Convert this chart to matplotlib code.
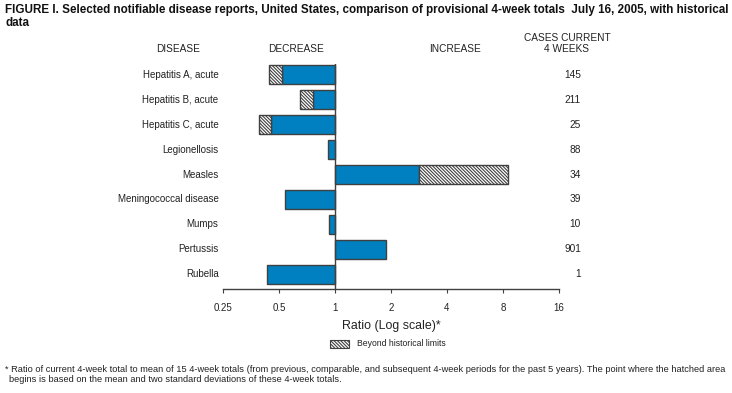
import numpy as np
import matplotlib
matplotlib.use("Agg")
import matplotlib.pyplot as plt
import matplotlib.transforms as mtransforms
from matplotlib.patches import Rectangle

plt.rcParams['font.family'] = ['Liberation Sans', 'DejaVu Sans']
plt.rcParams['hatch.linewidth'] = 0.8

diseases = ["Hepatitis A, acute", "Hepatitis B, acute", "Hepatitis C, acute",
            "Legionellosis", "Measles", "Meningococcal disease", "Mumps",
            "Pertussis", "Rubella"]
# ratio of current 4-week total to historical mean
ratio = [0.44, 0.65, 0.39, 0.92, 8.55, 0.54, 0.93, 1.89, 0.43]
# point where the hatched area begins (None = within historical limits)
limit = [0.52, 0.76, 0.455, None, 2.83, None, None, None, None]
cases = [145, 211, 25, 88, 34, 39, 10, 901, 1]
xticks = [0.25, 0.5, 1, 2, 4, 8, 16]
xtick_labels = ["0.25", "0.5", "1", "2", "4", "8", "16"]

blue = "#0080c0"
edge = "#404040"
txt = "#222222"
hatch = "\\" * 10

fig = plt.figure(figsize=(7.32, 3.93), dpi=100)
ax = fig.add_axes([0.3046, 0.2646, 0.4590, 0.5726])

y = np.arange(len(diseases))
for i in range(len(diseases)):
    r = ratio[i]
    lim = limit[i]
    if lim is None:
        ax.barh(y[i], r - 1, left=1, height=0.76, color=blue, edgecolor=edge, linewidth=1)
    else:
        # solid part from 1 to the limit, hatched part beyond it
        ax.barh(y[i], lim - 1, left=1, height=0.76, color=blue, edgecolor=edge, linewidth=1)
        ax.barh(y[i], r - lim, left=lim, height=0.76, color="white", edgecolor=edge,
                linewidth=1, hatch=hatch)

ax.set_xscale("log", base=2)
ax.set_xlim(0.25, 16)
ax.set_ylim(8.6, -0.44)
ax.axvline(1, color=edge, linewidth=1)

ax.set_xticks(xticks)
ax.set_xticklabels(xtick_labels, fontsize=7.0, color=txt)
ax.xaxis.set_minor_locator(matplotlib.ticker.NullLocator())
ax.tick_params(axis="x", direction="out", length=3, width=0.8, color=edge, pad=7)
ax.set_yticks([])
for s in ["top", "right", "left"]:
    ax.spines[s].set_visible(False)
ax.spines["bottom"].set_color(edge)
ax.spines["bottom"].set_linewidth(1)
ax.set_xlabel("Ratio (Log scale)*", fontsize=8.9, color=txt, labelpad=5)

# disease names and case counts along the rows
trans = mtransforms.blended_transform_factory(fig.transFigure, ax.transData)
for i in range(len(diseases)):
    ax.text(218.5 / 732, y[i], diseases[i], transform=trans, ha="right", va="center",
            fontsize=7.0, color=txt)
    ax.text(581 / 732, y[i], str(cases[i]), transform=trans, ha="right", va="center",
            fontsize=7.3, color=txt)

# column headers
hdr = dict(fontsize=7.3, color=txt, va="center")
fig.text(178 / 732, 1 - 49 / 393, "DISEASE", ha="center", **hdr)
fig.text(296 / 732, 1 - 49 / 393, "DECREASE", ha="center", **hdr)
fig.text(455 / 732, 1 - 49 / 393, "INCREASE", ha="center", **hdr)
fig.text(567 / 732, 1 - 38 / 393, "CASES CURRENT", ha="center", **hdr)
fig.text(567 / 732, 1 - 49 / 393, "4 WEEKS", ha="center", **hdr)

# title
fig.text(5 / 732, 1 - 10 / 393,
         "FIGURE I. Selected notifiable disease reports, United States, comparison of provisional 4-week totals  July 16, 2005, with historical",
         fontsize=8.4, fontweight="bold", va="center", color="#111111")
fig.text(5 / 732, 1 - 23 / 393, "data", fontsize=8.4, fontweight="bold", va="center",
         color="#111111")

# legend
fig.patches.append(Rectangle((330 / 732, 1 - 348 / 393), 19 / 732, 8 / 393,
                             transform=fig.transFigure, facecolor="white",
                             edgecolor=edge, linewidth=0.8, hatch=hatch))
fig.text(357 / 732, 1 - 343.5 / 393, "Beyond historical limits", fontsize=6.2,
         va="center", color=txt)

# footnote
fig.text(5 / 732, 1 - 370 / 393,
         "* Ratio of current 4-week total to mean of 15 4-week totals (from previous, comparable, and subsequent 4-week periods for the past 5 years). The point where the hatched area",
         fontsize=6.7, va="center", color=txt)
fig.text(9 / 732, 1 - 380 / 393,
         "begins is based on the mean and two standard deviations of these 4-week totals.",
         fontsize=6.7, va="center", color=txt)

fig.savefig("out.png", dpi=100, facecolor="white")
